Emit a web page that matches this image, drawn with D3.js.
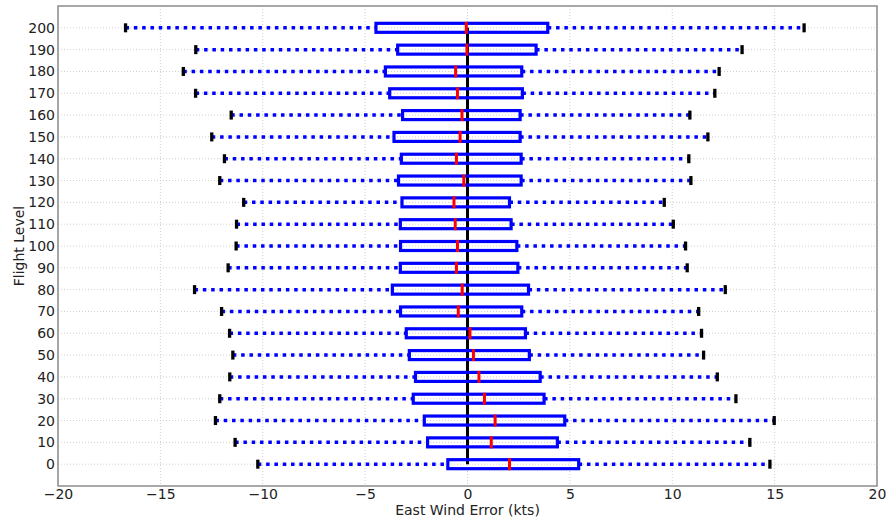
<!DOCTYPE html>
<html>
<head>
<meta charset="utf-8">
<script src="https://cdn.jsdelivr.net/npm/d3@7"></script>
<style>
  body { margin: 0; background: #fff; }
  svg { display: block; font-family: "DejaVu Sans", sans-serif; }
</style>
</head>
<body>
<script>
// flight levels and box stats (kts)
const levels = [0, 10, 20, 30, 40, 50, 60, 70, 80, 90, 100, 110, 120, 130, 140, 150, 160, 170, 180, 190, 200];
const whiskLow = [-10.24, -11.35, -12.31, -12.1, -11.61, -11.46, -11.62, -12.01, -13.33, -11.69, -11.3, -11.28, -10.93, -12.1, -11.87, -12.49, -11.54, -13.28, -13.88, -13.27, -16.7];
const q1 = [-0.96, -1.95, -2.11, -2.65, -2.54, -2.84, -2.99, -3.27, -3.67, -3.28, -3.27, -3.28, -3.2, -3.37, -3.23, -3.59, -3.17, -3.8, -4.01, -3.41, -4.47];
const medians = [2.05, 1.16, 1.35, 0.83, 0.56, 0.29, 0.12, -0.45, -0.26, -0.54, -0.49, -0.6, -0.66, -0.18, -0.54, -0.36, -0.27, -0.49, -0.58, -0.03, -0.06];
const q3 = [5.43, 4.39, 4.75, 3.74, 3.55, 3.02, 2.83, 2.65, 2.98, 2.46, 2.41, 2.13, 2.05, 2.62, 2.62, 2.57, 2.57, 2.68, 2.65, 3.35, 3.92];
const whiskHigh = [14.77, 13.79, 14.98, 13.11, 12.2, 11.53, 11.43, 11.29, 12.59, 10.73, 10.65, 10.05, 9.61, 10.91, 10.81, 11.74, 10.86, 12.08, 12.29, 13.41, 16.44];
const xTicks = [-20, -15, -10, -5, 0, 5, 10, 15, 20];

const data = levels.map((lv, i) => ({
    level: lv, lo: whiskLow[i], q1: q1[i], med: medians[i], q3: q3[i], hi: whiskHigh[i]
}));

const w = 886, h = 520;
const margin = {left: 58, right: 9, top: 6, bottom: 34};

const svg = d3.select('body').append('svg')
    .attr('width', w)
    .attr('height', h);

const xScale = d3.scaleLinear()
    .domain([-20, 20])
    .range([margin.left, w - margin.right]);

const yScale = d3.scaleLinear()
    .domain([-10, 210])
    .range([h - margin.bottom, margin.top]);

const boxH = 9;   // px
const capH = 9;

// grid
svg.append('g')
    .selectAll('line')
    .data(xTicks)
    .enter()
    .append('line')
    .attr('x1', d => xScale(d)).attr('x2', d => xScale(d))
    .attr('y1', margin.top).attr('y2', h - margin.bottom)
    .attr('stroke', '#cfcfcf')
    .attr('stroke-width', 1)
    .attr('stroke-dasharray', '1,2');

svg.append('g')
    .selectAll('line')
    .data(levels)
    .enter()
    .append('line')
    .attr('x1', margin.left).attr('x2', w - margin.right)
    .attr('y1', d => yScale(d)).attr('y2', d => yScale(d))
    .attr('stroke', '#cfcfcf')
    .attr('stroke-width', 1)
    .attr('stroke-dasharray', '1,2');

// zero line
svg.append('line')
    .attr('x1', xScale(0)).attr('x2', xScale(0))
    .attr('y1', yScale(0)).attr('y2', yScale(200))
    .attr('stroke', 'black')
    .attr('stroke-width', 3);

const boxes = svg.append('g')
    .selectAll('g')
    .data(data)
    .enter()
    .append('g');

// whiskers
boxes.append('line')
    .attr('x1', d => xScale(d.lo)).attr('x2', d => xScale(d.q1))
    .attr('y1', d => yScale(d.level)).attr('y2', d => yScale(d.level))
    .attr('stroke', 'blue').attr('stroke-width', 3.5)
    .attr('stroke-dasharray', '3.5,4.8');

boxes.append('line')
    .attr('x1', d => xScale(d.q3)).attr('x2', d => xScale(d.hi))
    .attr('y1', d => yScale(d.level)).attr('y2', d => yScale(d.level))
    .attr('stroke', 'blue').attr('stroke-width', 3.5)
    .attr('stroke-dasharray', '3.5,4.8');

// caps
boxes.append('line')
    .attr('x1', d => xScale(d.lo)).attr('x2', d => xScale(d.lo))
    .attr('y1', d => yScale(d.level) - capH / 2).attr('y2', d => yScale(d.level) + capH / 2)
    .attr('stroke', 'black').attr('stroke-width', 3.3);

boxes.append('line')
    .attr('x1', d => xScale(d.hi)).attr('x2', d => xScale(d.hi))
    .attr('y1', d => yScale(d.level) - capH / 2).attr('y2', d => yScale(d.level) + capH / 2)
    .attr('stroke', 'black').attr('stroke-width', 3.3);

// box
boxes.append('rect')
    .attr('x', d => xScale(d.q1))
    .attr('y', d => yScale(d.level) - boxH / 2)
    .attr('width', d => xScale(d.q3) - xScale(d.q1))
    .attr('height', boxH)
    .attr('fill', 'none')
    .attr('stroke', 'blue')
    .attr('stroke-width', 3.2);

// median
boxes.append('line')
    .attr('x1', d => xScale(d.med)).attr('x2', d => xScale(d.med))
    .attr('y1', d => yScale(d.level) - boxH / 2 - 1.5).attr('y2', d => yScale(d.level) + boxH / 2 + 1.5)
    .attr('stroke', 'red').attr('stroke-width', 3);

// frame
svg.append('rect')
    .attr('x', margin.left).attr('y', margin.top)
    .attr('width', w - margin.left - margin.right)
    .attr('height', h - margin.top - margin.bottom)
    .attr('fill', 'none')
    .attr('stroke', '#8c8c8c')
    .attr('stroke-width', 1.5);

// axes
const xAxis = d3.axisBottom(xScale).tickValues(xTicks).tickSize(0).tickPadding(3)
    .tickFormat(d => d < 0 ? '\u2212' + Math.abs(d) : d);
const gx = svg.append('g')
    .attr('transform', `translate(0, ${h - margin.bottom})`)
    .style('font-size', '14px')
    .call(xAxis);
gx.select('.domain').remove();
gx.selectAll('text').attr('fill', '#222').attr('font-family', '"DejaVu Sans", sans-serif');

const yAxis = d3.axisLeft(yScale).tickValues(levels).tickSize(0).tickPadding(3);
const gy = svg.append('g')
    .attr('transform', `translate(${margin.left}, 0)`)
    .style('font-size', '14px')
    .call(yAxis);
gy.select('.domain').remove();
gy.selectAll('text').attr('fill', '#222').attr('font-family', '"DejaVu Sans", sans-serif');

// labels
svg.append('text')
    .attr('x', xScale(0))
    .attr('y', 515)
    .attr('text-anchor', 'middle')
    .attr('font-size', '14px')
    .attr('fill', '#222')
    .text('East Wind Error (kts)');

svg.append('text')
    .attr('transform', `translate(24, ${yScale(100)}) rotate(-90)`)
    .attr('text-anchor', 'middle')
    .attr('font-size', '14px')
    .attr('fill', '#222')
    .text('Flight Level');
</script>
</body>
</html>
